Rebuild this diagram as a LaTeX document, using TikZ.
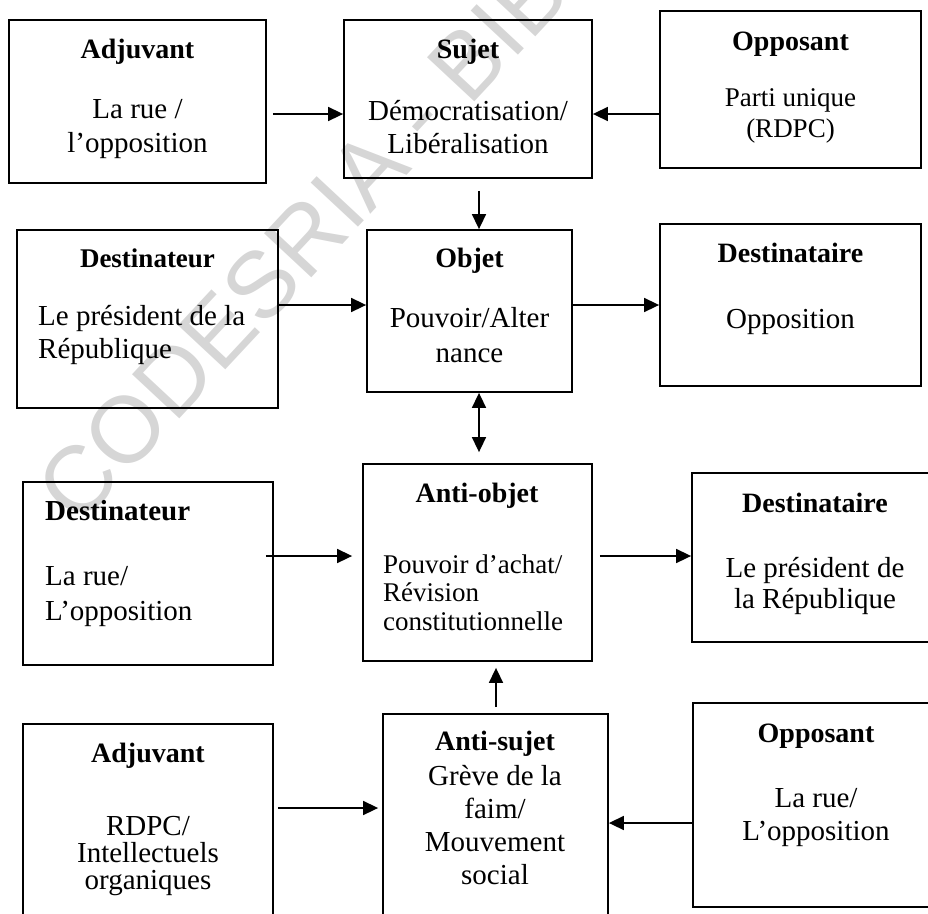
\documentclass[tikz,border=0pt]{standalone}
\usepackage{fontspec}
\setmainfont{Liberation Serif}
\newfontfamily\wmfont{Liberation Sans}
\usetikzlibrary{arrows.meta,fit}

% stacked lines whose baseline is the baseline of the first line
\newcommand\stackc[1]{\vtop{\halign{\hfil##\hfil\cr#1\crcr}}}
\newcommand\stackl[1]{\vtop{\halign{##\hfil\cr#1\crcr}}}

\tikzset{
  frame/.style={draw, line width=1.8pt, inner sep=0pt},
  ttl/.style={font=\fontsize{#1}{#1}\selectfont\bfseries, anchor=base, inner sep=0pt},
  ttl/.default=28,
  txt/.style 2 args={font=\fontsize{#1}{#2}\selectfont, anchor=base, inner sep=0pt},
  txtl/.style 2 args={font=\fontsize{#1}{#2}\selectfont, anchor=base west, inner sep=0pt},
  arr/.style={line width=1.6pt, -{Triangle[length=15pt,width=14pt]}},
  dblarr/.style={line width=1.6pt, {Triangle[length=15pt,width=14pt]}-{Triangle[length=15pt,width=14pt]}},
  wm/.style={font=\wmfont\fontsize{94}{94}\selectfont, text=black!16, inner sep=0pt}
}

\begin{document}
\begin{tikzpicture}[x=1pt,y=-1pt]
\useasboundingbox (0,0) rectangle (928,913);
\clip (0,0) rectangle (928,913);

% background stamp
\node[wm, rotate=47, anchor=base west] (stamp) at (78,528) {CODESRIA - BIBLIOTHEQUE};

% boxes
\node[frame, fit={(9,20)(266,183)}] (adj1) {};
\node[frame, fit={(344,20)(592,178)}] (sujet) {};
\node[frame, fit={(660,11)(921,168)}] (opp1) {};
\node[frame, fit={(17,230)(278,408)}] (dest1) {};
\node[frame, fit={(367,230)(572,392)}] (objet) {};
\node[frame, fit={(660,224)(921,386)}] (desta1) {};
\node[frame, fit={(23,482)(273,665)}] (dest2) {};
\node[frame, fit={(363,464)(592,661)}] (antiobj) {};
\node[frame, fit={(692,473)(940,642)}] (desta2) {};
\node[frame, fit={(23,724)(273,940)}] (adj3) {};
\node[frame, fit={(383,714)(608,940)}] (antisuj) {};
\node[frame, fit={(693,703)(940,907)}] (opp3) {};

% texts
\node[ttl] (adj1t) at (137.5,58) {Adjuvant};
\node[txt={29}{34}] (adj1b) at (137.5,118) {\stackc{La rue /\cr l’opposition}};

\node[ttl] (sujett) at (468,58) {Sujet};
\node[txt={29}{33}] (sujetb) at (468,120) {\stackc{Démocratisation/\cr Libéralisation}};

\node[ttl] (opp1t) at (790.5,50) {Opposant};
\node[txt={27}{31}] (opp1b) at (790.5,106) {\stackc{Parti unique\cr (RDPC)}};

\node[ttl=27] (dest1t) at (147.5,267) {Destinateur};
\node[txtl={29}{33}] (dest1b) at (38,325) {\stackl{Le président de la\cr République}};

\node[ttl] (objett) at (469.5,267) {Objet};
\node[txt={29}{35}] (objetb) at (469.5,327) {\stackc{Pouvoir/Alter\cr nance}};

\node[ttl] (desta1t) at (790.5,262) {Destinataire};
\node[txt={29}{33}] (desta1b) at (790.5,328) {Opposition};

\node[ttl=29, anchor=base west] (dest2t) at (45,520) {Destinateur};
\node[txtl={29}{35}] (dest2b) at (45,585) {\stackl{La rue/\cr L’opposition}};

\node[ttl] (antiobjt) at (477,502) {Anti-objet};
\node[txtl={27}{28.5}] (antiobjb) at (383,573) {\stackl{Pouvoir d’achat/\cr Révision\cr constitutionnelle}};

\node[ttl] (desta2t) at (815,512) {Destinataire};
\node[txt={29}{31.5}] (desta2b) at (815,577) {\stackc{Le président de\cr la République}};

\node[ttl] (adj3t) at (148,762) {Adjuvant};
\node[txt={29}{27}] (adj3b) at (148,835) {\stackc{RDPC/\cr Intellectuels\cr organiques}};

\node[ttl] (antisujt) at (495,750) {Anti-sujet};
\node[txt={29}{33}] (antisujb) at (495,785) {\stackc{Grève de la\cr faim/\cr Mouvement\cr social}};

\node[ttl] (opp3t) at (816,742) {Opposant};
\node[txt={29}{33}] (opp3b) at (816,807) {\stackc{La rue/\cr L’opposition}};

% connector rows and columns
\coordinate (r1) at (0,114);
\coordinate (r2) at (0,305);
\coordinate (r3) at (0,556);
\coordinate (r4) at (0,808);
\coordinate (r5) at (0,823);
\coordinate (c1) at (479,0);
\coordinate (c2) at (496,0);

% connectors
\draw[arr, shorten <=6pt] (adj1.east |- r1) -- (sujet.west |- r1);
\draw[arr] (opp1.west |- r1) -- (sujet.east |- r1);
\draw[arr, shorten <=12pt] (sujet.south -| c1) -- (objet.north -| c1);
\draw[arr] (dest1.east |- r2) -- (objet.west |- r2);
\draw[arr] (objet.east |- r2) -- (desta1.west |- r2);
\draw[dblarr, shorten >=11pt] (objet.south -| c1) -- (antiobj.north -| c1);
\draw[arr, shorten <=-8pt, shorten >=10pt] (dest2.east |- r3) -- (antiobj.west |- r3);
\draw[arr, shorten <=7pt] (antiobj.east |- r3) -- (desta2.west |- r3);
\draw[arr, shorten <=4pt, shorten >=4pt] (adj3.east |- r4) -- (antisuj.west |- r4);
\draw[arr] (opp3.west |- r5) -- (antisuj.east |- r5);
\draw[arr, shorten <=6pt, shorten >=6pt] (antisuj.north -| c2) -- (antiobj.south -| c2);
\end{tikzpicture}
\end{document}
